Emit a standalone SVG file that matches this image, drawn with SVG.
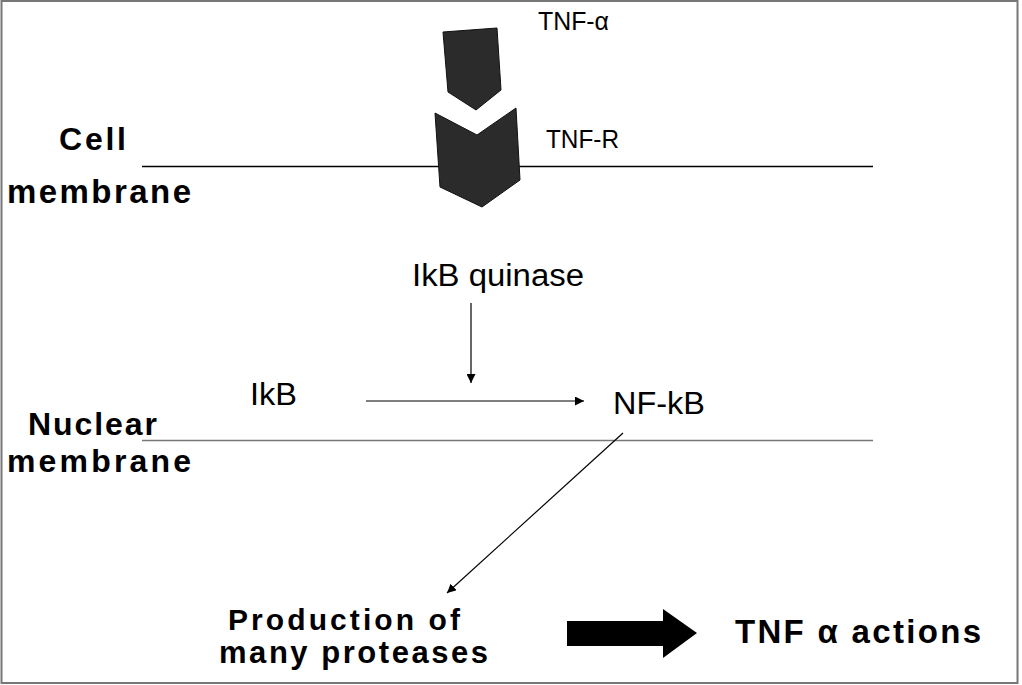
<svg xmlns="http://www.w3.org/2000/svg" width="1022" height="685" viewBox="0 0 1022 685">
<defs>
<style>
.t{font-family:"Liberation Sans",Arial,sans-serif;fill:#000}
.b{font-weight:bold}
.shape{fill:#2b2b2b;stroke:#111;stroke-width:1}
.ln{stroke:#000;stroke-width:1.2;fill:none}
</style>
<marker id="ah" viewBox="0 0 10 10" refX="10" refY="5" markerWidth="9" markerHeight="9" markerUnits="userSpaceOnUse" orient="auto">
<path d="M0,0 L10,5 L0,10 z" fill="#000"/>
</marker>
</defs>
<rect x="0" y="0" width="1022" height="685" fill="#fff"/>
<rect x="1.5" y="1" width="1016" height="682" fill="none" stroke="#777" stroke-width="2"/>
<g id="membranes">
<line x1="142" y1="166.5" x2="873" y2="166.5" stroke="#000" stroke-width="1.3"/>
<line x1="142" y1="440.5" x2="873" y2="440.5" stroke="#777" stroke-width="1.5"/>
</g>
<g id="label-cell"><text class="t b" x="59" y="150" font-size="32" textLength="67" lengthAdjust="spacing">Cell</text>
<text class="t b" x="7" y="203" font-size="33" textLength="184" lengthAdjust="spacing">membrane</text></g>
<g id="label-nuclear"><text class="t b" x="28" y="435" font-size="32" textLength="129" lengthAdjust="spacing">Nuclear</text>
<text class="t b" x="7" y="472" font-size="32" textLength="184" lengthAdjust="spacing">membrane</text></g>
<g id="tnf-a"><polygon class="shape" points="443,32 497,28 501,90 476,110 448,92"/>
<text class="t" x="538" y="30" font-size="25" textLength="71" lengthAdjust="spacingAndGlyphs">TNF-α</text></g>
<g id="tnf-r"><polygon class="shape" points="435,113 477,135 516,108 520,180 482,207 440,187"/>
<text class="t" x="546" y="148" font-size="25" textLength="73" lengthAdjust="spacingAndGlyphs">TNF-R</text></g>
<g id="ikb-quinase"><text class="t" x="412" y="286" font-size="31" textLength="172" lengthAdjust="spacingAndGlyphs">IkB quinase</text></g>
<g id="ikb"><text class="t" x="250" y="405" font-size="32" textLength="47" lengthAdjust="spacingAndGlyphs">IkB</text></g>
<g id="nfkb"><text class="t" x="613" y="414" font-size="32" textLength="92" lengthAdjust="spacingAndGlyphs">NF-kB</text></g>
<g id="proteases"><text class="t b" x="228" y="630" font-size="30" textLength="232" lengthAdjust="spacing">Production of</text>
<text class="t b" x="219" y="663" font-size="31" textLength="269" lengthAdjust="spacing">many proteases</text></g>
<g id="tnf-actions"><text class="t b" x="735" y="643" font-size="33" textLength="246" lengthAdjust="spacing">TNF α actions</text></g>
<g id="connectors">
<line class="ln" x1="471" y1="303" x2="471" y2="383" marker-end="url(#ah)"/>
<line class="ln" x1="366" y1="401" x2="584" y2="401" marker-end="url(#ah)"/>
<line class="ln" x1="623" y1="433" x2="447" y2="593" marker-end="url(#ah)"/>
<polygon points="567,621 663,621 663,609 697,633 663,658 663,646 567,646" fill="#000"/>
</g>
</svg>
